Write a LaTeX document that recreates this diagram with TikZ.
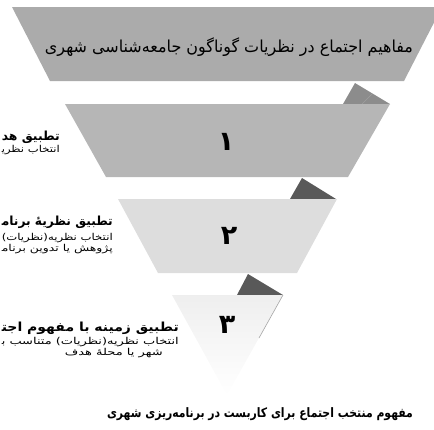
\documentclass[tikz,border=0pt]{standalone}
\usepackage{fontspec}
\usepackage{graphicx}
\setmainfont{DejaVu Sans}
\newfontfamily\fa[Script=Arabic]{DejaVu Sans}
\newfontfamily\fasub[Script=Arabic,FakeStretch=1.37]{DejaVu Sans}
\TeXXeTstate=1
\newcommand\fitto[2]{\resizebox{#1}{\height}{#2}}
\begin{document}
\begin{tikzpicture}[x=1pt,y=-1pt,
  band/.style={draw=none},
  fold/.style={fill=#1,draw=none},
  num/.style={inner sep=0pt,font=\fa\bfseries\fontsize{27}{30}\selectfont},
  head/.style={inner sep=0pt,anchor=east,font=\fa\bfseries\fontsize{12.5}{14}\selectfont},
  sub/.style={inner sep=0pt,anchor=east,font=\fa\fontsize{9.5}{11}\selectfont},
  subw/.style={inner sep=0pt,anchor=east,font=\fasub\fontsize{9.5}{11}\selectfont},
  title/.style={inner sep=0pt,font=\fa\fontsize{16.5}{19}\selectfont},
  result/.style={inner sep=0pt,font=\fa\bfseries\fontsize{13}{15}\selectfont}]
\useasboundingbox (0,0) rectangle (434,429);
\clip (0,0) rectangle (434,429);
% side texts
\node[head] (h1) at (60,137) {\fitto{58pt}{\beginR تطبیق هد\endR}};
\node[sub]  (s1) at (60,150) {\fitto{58pt}{\beginR انتخاب نظری^^^^200d\endR}};
\node[head] (h2) at (113,222) {\fitto{111pt}{\beginR تطبیق نظریهٔ برنام^^^^200d\endR}};
\node[sub]  (s2a) at (113,238) {\fitto{111pt}{\beginR انتخاب نظریه(نظریات)\endR}};
\node[sub]  (s2b) at (113,249) {\fitto{111pt}{\beginR پژوهش یا تدوین برنام^^^^200d\endR}};
\node[head] (h3) at (179,328) {\fitto{177pt}{\beginR تطبیق زمینه با مفهوم اجت^^^^200d\endR}};
\node[sub]  (s3a) at (179,342) {\fitto{177pt}{\beginR انتخاب نظریه(نظریات) متناسب ب^^^^200d\endR}};
\node[subw] (s3b) at (163,353) {\beginR شهر یا محلهٔ هدف\endR};
% band 0
\fill[band,fill=gray!66] (12,7) -- (442,7) -- (404,81) -- (50,81) -- cycle;
% fold A
\fill[fold=gray!110!black] (355,83) -- (343,104) -- (390,104) -- cycle;
\draw[gray!75,line width=0.5pt] (372,94) -- (362,104);
% band 1
\fill[band,fill=gray!57!white] (65,104) -- (390,104) -- (348,177) -- (106,177) -- cycle;
% fold B
\fill[fold=black!65] (302,178) -- (290,199) -- (336,199) -- cycle;
% band 2
\fill[band,fill=gray!27!white] (118,199) -- (337,199) -- (297,273) -- (158,273) -- cycle;
% fold C
\fill[fold=black!65] (248,274) -- (237,295) -- (283,295) -- cycle;
% triangle 3
\shade[top color=gray!13,bottom color=white] (172,295) -- (283,295) -- (227,395) -- cycle;
\draw[gray!70,line width=0.6pt] (283,295) -- (259,338);
% texts
\node[title] (t0) at (229,47) {\fitto{368pt}{\beginR مفاهیم اجتماع در نظریات گوناگون جامعه^^^^200cشناسی شهری\endR}};
\node[num] (n1) at (226,142) {\beginR ۱\endR};
\node[num] (n2) at (229,236) {\beginR ۲\endR};
\node[num] (n3) at (227,325) {\beginR ۳\endR};
\node[result] (r) at (260,414) {\fitto{306pt}{\beginR مفهوم منتخب اجتماع برای کاربست در برنامه^^^^200cریزی شهری\endR}};
\end{tikzpicture}
\end{document}
